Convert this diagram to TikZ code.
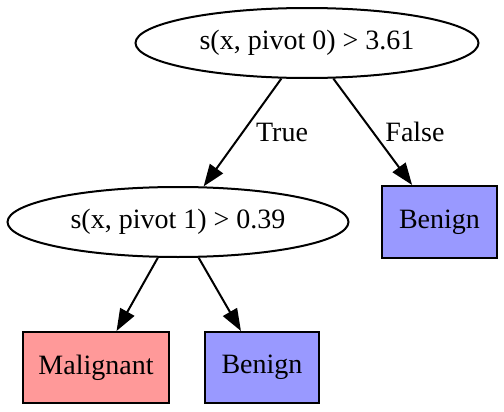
\documentclass[tikz,border=0pt]{standalone}
\usepackage{fontspec}
\setmainfont{Liberation Serif}
\usetikzlibrary{shapes.geometric,arrows.meta}
\definecolor{malig}{HTML}{FF9999}
\definecolor{benign}{HTML}{9999FF}
\begin{document}
\begin{tikzpicture}[x=0.5pt,y=-0.5pt,
  every node/.style={font=\fontsize{14pt}{16pt}\selectfont},
  split/.style={ellipse,draw,line width=1pt,inner sep=0pt,minimum height=35pt},
  leafbox/.style={rectangle,draw,line width=1pt,inner sep=0pt,minimum height=35.5pt},
  arr/.style={line width=1pt,-{Triangle[length=11pt,width=8pt]}},
  elabel/.style={inner sep=0pt}]
\useasboundingbox (0,0) rectangle (504,412);
\node[split,minimum width=171.5pt] (n0) at (307,43) {s(x, pivot 0) > 3.61};
\node[split,minimum width=170.5pt] (n1) at (178,222) {s(x, pivot 1) > 0.39};
\node[leafbox,fill=benign,minimum width=57.5pt,minimum height=36pt] (n2) at (439.5,222) {Benign};
\node[leafbox,fill=malig,minimum width=73pt] (n3) at (96,367.5) {Malignant};
\node[leafbox,fill=benign,minimum width=57pt] (n4) at (262,367.5) {Benign};
\draw[arr] (n0) -- (n1);
\draw[arr] (n0) -- (n2);
\draw[arr] (n1) -- (n3);
\draw[arr] (n1) -- (n4);
\node[elabel] (t) at (282,132) {True};
\node[elabel] (f) at (415,132) {False};
\end{tikzpicture}
\end{document}
